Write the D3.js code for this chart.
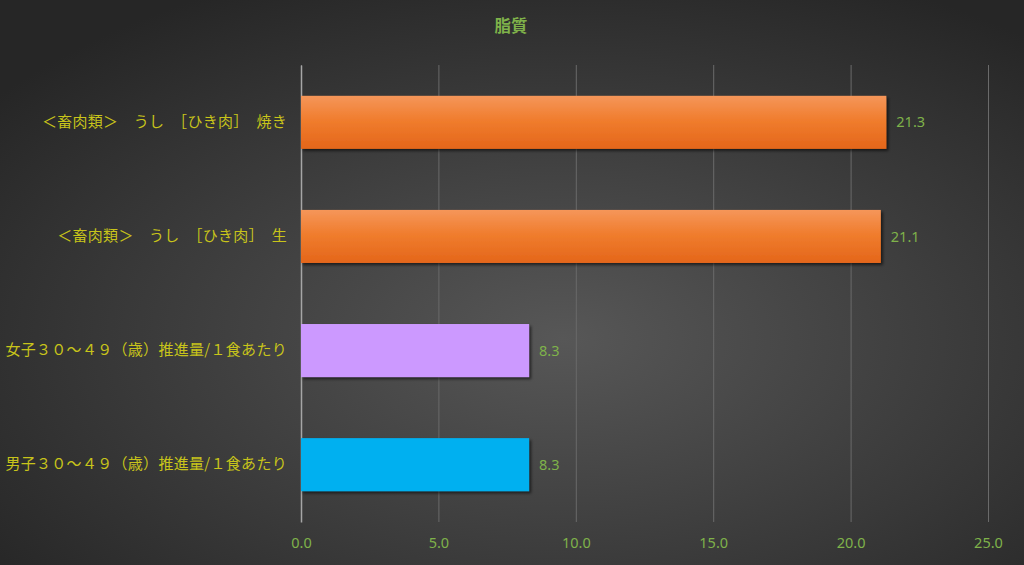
<!DOCTYPE html>
<html>
<head>
<meta charset="utf-8">
<script src="https://cdn.jsdelivr.net/npm/d3@7"></script>
<style>
  html, body { margin: 0; padding: 0; background: #333; }
  svg { display: block; }
  .cat { fill: #c8c41a; font-family: "Noto Sans CJK JP", sans-serif; font-size: 15px; letter-spacing: 0.3px; }
  .tick-label { fill: #7fb24a; font-family: "Noto Sans", sans-serif; font-size: 14.5px; }
  .value { fill: #7fb24a; font-family: "Noto Sans", sans-serif; font-size: 14.5px; }
  .title { fill: #7fb24a; font-family: "Noto Sans CJK JP", sans-serif; font-size: 16.5px; font-weight: bold; }
</style>
</head>
<body>
<div id="chart"></div>
<script>
// data, top to bottom
const categories = [
    "＜畜肉類＞　うし　［ひき肉］　焼き",
    "＜畜肉類＞　うし　［ひき肉］　生",
    "女子３０～４９（歳）推進量/１食あたり",
    "男子３０～４９（歳）推進量/１食あたり"
];
const values = [21.3, 21.1, 8.3, 8.3];
const barColors = ["orange", "orange", "#cc99ff", "#00b0f0"];
const xTicks = [0, 5, 10, 15, 20, 25];
const chartTitle = "脂質";

const width = 1024;
const height = 565;
const margin = {top: 65, right: 36, bottom: 43, left: 301};

const svg = d3.select('#chart').append('svg')
    .attr('width', width)
    .attr('height', height);

const defs = svg.append('defs');

const bg = defs.append('radialGradient')
    .attr('id', 'bg')
    .attr('cx', '55%').attr('cy', '60%').attr('r', '70%');
bg.append('stop').attr('offset', '0%').attr('stop-color', '#575757');
bg.append('stop').attr('offset', '100%').attr('stop-color', '#262626');

const orange = defs.append('linearGradient')
    .attr('id', 'orangeGrad')
    .attr('x1', 0).attr('y1', 0).attr('x2', 0).attr('y2', 1);
orange.append('stop').attr('offset', '0%').attr('stop-color', '#f5965a');
orange.append('stop').attr('offset', '45%').attr('stop-color', '#f07d2e');
orange.append('stop').attr('offset', '100%').attr('stop-color', '#e4661a');

const shadow = defs.append('filter')
    .attr('id', 'shadow')
    .attr('x', '-5%').attr('y', '-20%').attr('width', '115%').attr('height', '150%');
shadow.append('feDropShadow')
    .attr('dx', 2).attr('dy', 2).attr('stdDeviation', 1.5)
    .attr('flood-color', '#000').attr('flood-opacity', 0.6);

svg.append('rect')
    .attr('width', width)
    .attr('height', height)
    .attr('fill', 'url(#bg)');

const chart = svg.append('g').attr('transform', `translate(${margin.left}, ${margin.top})`);
const innerW = width - margin.left - margin.right;
const innerH = height - margin.top - margin.bottom;

const xScale = d3.scaleLinear()
    .domain([0, 25])
    .range([0, innerW]);

const yScale = d3.scaleBand()
    .domain(categories)
    .range([0, innerH])
    .paddingInner(0.535)
    .paddingOuter(0.27);

// grid lines
chart.append('g')
    .call(d3.axisBottom(xScale).tickValues(xTicks).tickSize(innerH).tickFormat(''))
    .call(g => g.select('.domain').remove())
    .call(g => g.selectAll('.tick line').attr('stroke', '#6a6a6a').attr('stroke-width', 1));

// x tick labels
chart.append('g')
    .attr('transform', `translate(0, ${innerH})`)
    .call(d3.axisBottom(xScale).tickValues(xTicks).tickSize(0).tickPadding(16).tickFormat(d3.format('.1f')))
    .call(g => g.select('.domain').remove())
    .call(g => g.selectAll('.tick text').attr('class', 'tick-label').attr('fill', null));

// y axis
chart.append('g')
    .call(d3.axisLeft(yScale).tickSize(0).tickPadding(14))
    .call(g => g.select('.domain').attr('stroke', '#a6a6a6').attr('stroke-width', 1.5))
    .call(g => g.selectAll('.tick text').attr('class', 'cat').attr('fill', null));

const barGroup = chart.selectAll('.bar-g')
    .data(categories)
    .enter()
    .append('g');

barGroup.append('rect')
    .attr('x', 0)
    .attr('y', d => yScale(d))
    .attr('width', (d, i) => xScale(values[i]))
    .attr('height', yScale.bandwidth())
    .attr('fill', (d, i) => barColors[i] === 'orange' ? 'url(#orangeGrad)' : barColors[i])
    .attr('filter', 'url(#shadow)');

barGroup.append('text')
    .attr('class', 'value')
    .attr('x', (d, i) => xScale(values[i]) + 10)
    .attr('y', d => yScale(d) + yScale.bandwidth() / 2)
    .attr('dy', '0.35em')
    .text((d, i) => d3.format('.1f')(values[i]));

svg.append('text')
    .attr('class', 'title')
    .attr('x', 511)
    .attr('y', 32)
    .attr('text-anchor', 'middle')
    .text(chartTitle);
</script>
</body>
</html>
